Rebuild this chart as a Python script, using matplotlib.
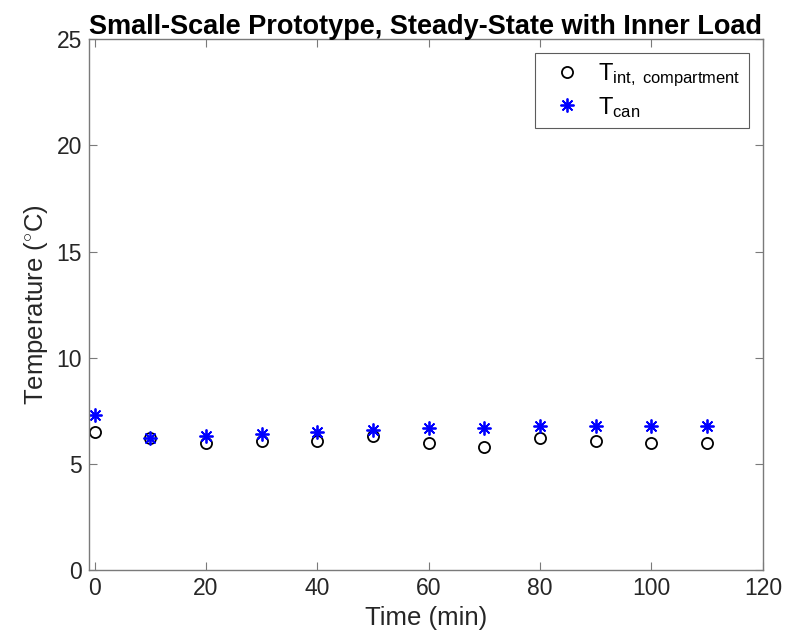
import matplotlib
matplotlib.use("Agg")
import matplotlib.pyplot as plt

plt.rcParams["font.family"] = ["Liberation Sans", "DejaVu Sans"]
plt.rcParams["mathtext.fontset"] = "custom"
plt.rcParams["mathtext.rm"] = "Liberation Sans"
plt.rcParams["mathtext.it"] = "Liberation Sans:italic"

time_min = [0, 10, 20, 30, 40, 50, 60, 70, 80, 90, 100, 110]
t_compartment = [6.5, 6.2, 6.0, 6.1, 6.1, 6.3, 6.0, 5.8, 6.2, 6.1, 6.0, 6.0]
t_can = [7.3, 6.2, 6.3, 6.4, 6.5, 6.6, 6.7, 6.7, 6.8, 6.8, 6.8, 6.8]

axis_gray = "#7a7a7a"
text_col = "#262626"

fig = plt.figure(figsize=(7.98, 6.33), dpi=100)
ax = fig.add_axes([0.1115, 0.0995, 0.8445, 0.8385])

ax.plot(time_min, t_compartment, linestyle="none", marker="o", markersize=8,
        markerfacecolor="none", markeredgecolor="black", markeredgewidth=1.3,
        label=r"T$_{\mathrm{int,\ compartment}}$")
ax.plot(time_min, t_can, linestyle="none", marker=(8, 2, 0), markersize=10,
        markeredgecolor="blue", markeredgewidth=1.3, color="blue",
        label=r"T$_{\mathrm{can}}$")

ax.set_xlim(-1, 120)
ax.set_ylim(0, 25)
ax.set_xticks(range(0, 121, 20))
ax.set_yticks(range(0, 26, 5))

ax.tick_params(direction="in", length=6, width=0.8, colors=axis_gray,
               labelcolor=text_col, labelsize=16.5, top=True, right=True, pad=5)
for s in ax.spines.values():
    s.set_color(axis_gray)
    s.set_linewidth(1.0)

ax.set_xlabel("Time (min)", fontsize=18.5, color=text_col, labelpad=4)
ax.set_ylabel(r"Temperature ($^{\circ}$C)", fontsize=18.5, color=text_col, labelpad=5)
ax.set_title("Small-Scale Prototype, Steady-State with Inner Load",
             fontsize=19.5, fontweight="bold", pad=4)

leg = ax.legend(loc="upper right", fontsize=17, frameon=True, fancybox=False,
                edgecolor="#333333", borderpad=0.35, handletextpad=0.3,
                labelspacing=0.25, borderaxespad=0,
                bbox_to_anchor=(0.979, 0.974))
leg.get_frame().set_linewidth(0.8)

fig.savefig("out.png", dpi=100)
